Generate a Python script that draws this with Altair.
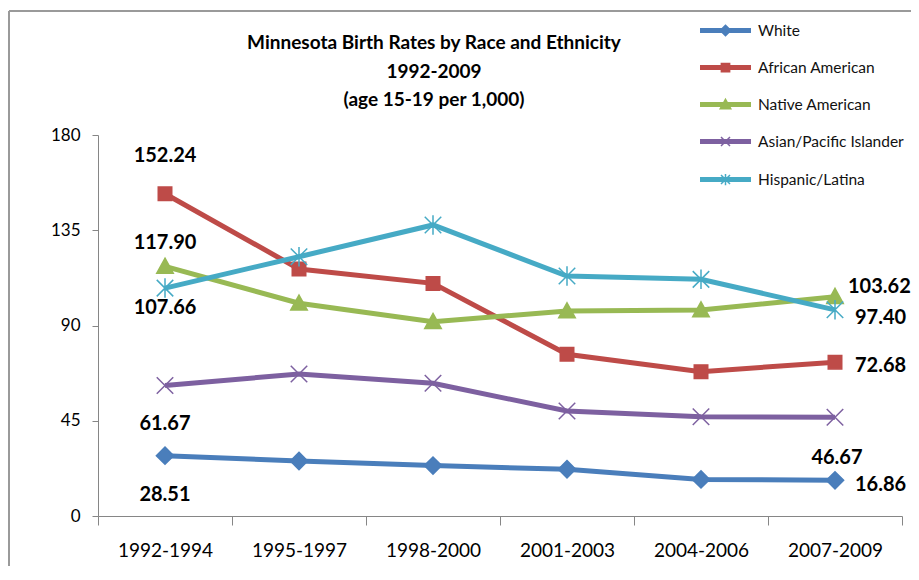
import altair as alt
import pandas as pd

periods = ["1992-1994", "1995-1997", "1998-2000", "2001-2003", "2004-2006", "2007-2009"]
series = ["White", "African American", "Native American", "Asian/Pacific Islander", "Hispanic/Latina"]

white = [28.51, 26.0, 23.8, 22.1, 17.3, 16.86]
african = [152.24, 116.7, 109.9, 76.4, 68.2, 72.68]
native = [117.90, 100.5, 91.8, 96.8, 97.3, 103.62]
asian = [61.67, 67.1, 62.7, 49.6, 46.9, 46.67]
hispanic = [107.66, 122.5, 137.5, 113.4, 111.8, 97.40]

colors = ["#4A7EBB", "#BE4B48", "#98B954", "#7D60A0", "#46AAC5"]

title_lines = ["Minnesota Birth Rates by Race and Ethnicity", "1992-2009", "(age 15-19 per 1,000)"]
y_ticks = [0, 45, 90, 135, 180]

rows = []
for name, vals in zip(series, [white, african, native, asian, hispanic]):
    for p, v in zip(periods, vals):
        rows.append({"series": name, "period": p, "value": v})
df = pd.DataFrame(rows)

FONT = "Lato"

# marker shapes (plot)
diamond = "M0,-1.15L1.15,0L0,1.15L-1.15,0Z"
square = "M-0.9,-0.9H0.9V0.9H-0.9Z"
triangle = "M0,-1.1L1.1,0.9H-1.1Z"
xcross = "M-1.1,-1.1L1.1,1.1M-1.1,1.1L1.1,-1.1"
aster = "M-1.1,-1.1L1.1,1.1M-1.1,1.1L1.1,-1.1M0,-1.3L0,1.3"
plot_shapes = [diamond, square, triangle, xcross, aster]

# legend symbols: line stub + small marker
stub = "M-3.3,-0.22H3.3V0.22H-3.3Z"
leg_shapes = [
    stub + "M0,-0.7L0.7,0L0,0.7L-0.7,0Z",
    stub + "M-0.55,-0.55H0.55V0.55H-0.55Z",
    stub + "M0,-0.7L0.7,0.55H-0.7Z",
    stub + "M-0.6,-0.6L0.6,0.6M-0.6,0.6L0.6,-0.6",
    stub + "M-0.6,-0.6L0.6,0.6M-0.6,0.6L0.6,-0.6M0,-0.75L0,0.75",
]

xenc = alt.X("period:N", sort=periods,
             scale=alt.Scale(type="band", domain=periods, paddingInner=0, paddingOuter=0),
             axis=alt.Axis(title=None, tickBand="extent", tickSize=9, labelPadding=16,
                           labelFontSize=19, labelFont=FONT, labelColor="#000000",
                           domainColor="#868686", tickColor="#868686", labelAngle=0))
yenc = alt.Y("value:Q", scale=alt.Scale(domain=[0, 180], nice=False),
             axis=alt.Axis(title=None, values=y_ticks, tickSize=6, labelPadding=12,
                           labelFontSize=17, labelFont=FONT, labelColor="#000000",
                           domainColor="#868686", tickColor="#868686", grid=False))

cscale = alt.Scale(domain=series, range=colors)

base = alt.Chart(df)

lines = base.mark_line(strokeWidth=5, interpolate="linear").encode(
    x=xenc, y=yenc,
    color=alt.Color("series:N", scale=cscale, legend=None),
    detail="series:N",
)

points = base.mark_point(size=225, opacity=1, strokeWidth=1.5).encode(
    x=xenc, y=yenc,
    shape=alt.Shape("series:N", scale=alt.Scale(domain=series, range=plot_shapes), legend=None),
    fill=alt.Fill("series:N", scale=cscale, legend=None),
    stroke=alt.Stroke("series:N", scale=cscale, legend=None),
)

leg = alt.Legend(title=None, orient="none", legendX=619, legendY=-113,
                 symbolSize=225, symbolOpacity=1, symbolStrokeWidth=1.5,
                 labelFont=FONT, labelFontSize=15.5, labelColor="#111111",
                 labelOffset=24, rowPadding=20, padding=0, labelLimit=300)

legend_layer = base.transform_filter(alt.datum.period == periods[0]).mark_point(
    size=225, opacity=0, strokeWidth=1.5
).encode(
    x=xenc, y=yenc,
    shape=alt.Shape("series:N", scale=alt.Scale(domain=series, range=leg_shapes), legend=leg),
    fill=alt.Fill("series:N", scale=cscale, legend=leg),
    stroke=alt.Stroke("series:N", scale=cscale, legend=leg),
)

# value labels
label_style = {
    ("African American", 0): dict(dx=0, dy=-38, align="center"),
    ("Native American", 0): dict(dx=0, dy=-23, align="center"),
    ("Hispanic/Latina", 0): dict(dx=0, dy=20, align="center"),
    ("Asian/Pacific Islander", 0): dict(dx=0, dy=39, align="center"),
    ("White", 0): dict(dx=0, dy=39, align="center"),
    ("Native American", 5): dict(dx=13, dy=-10, align="left"),
    ("Hispanic/Latina", 5): dict(dx=20, dy=8, align="left"),
    ("African American", 5): dict(dx=20, dy=4, align="left"),
    ("Asian/Pacific Islander", 5): dict(dx=2, dy=41, align="center"),
    ("White", 5): dict(dx=20, dy=5, align="left"),
}

label_layers = []
for (name, idx), st in label_style.items():
    sub = df[(df.series == name) & (df.period == periods[idx])]
    label_layers.append(
        alt.Chart(sub).mark_text(font=FONT, fontSize=20, fontWeight="bold", color="#000000",
                                 baseline="middle", **st).encode(
            x=xenc, y=yenc, text=alt.Text("value:Q", format=".2f"))
    )

# title lines as text marks
title_df = pd.DataFrame({"line": title_lines, "order": [0, 1, 2]})
title_layers = []
for i, t in enumerate(title_lines):
    title_layers.append(
        alt.Chart(title_df[title_df.order == i]).mark_text(
            font=FONT, fontSize=19, fontWeight="bold", color="#000000",
            align="center", baseline="middle").encode(
            text="line:N", x=alt.value(336), y=alt.value(-92 + 28.5 * i))
    )

frame_top = alt.Chart(df.head(1)).mark_rule(color="#9a9a9a", strokeWidth=2).encode(
    x=alt.value(-89), x2=alt.value(830), y=alt.value(-124))
frame_left = alt.Chart(df.head(1)).mark_rule(color="#9a9a9a", strokeWidth=2).encode(
    x=alt.value(-89), y=alt.value(-124), y2=alt.value(460))

chart = alt.layer(frame_top, frame_left, lines, points, legend_layer, *label_layers, *title_layers).resolve_scale(
    shape="independent", fill="independent", stroke="independent"
).properties(
    width=804, height=381,
    autosize=alt.AutoSizeParams(type="none"),
    padding={"left": 90, "top": 127, "right": 9, "bottom": 50},
).configure_view(stroke=None).configure_axis(domainWidth=1, tickWidth=1)

chart.save("out.html", embed_options={"renderer": "svg", "actions": False})
